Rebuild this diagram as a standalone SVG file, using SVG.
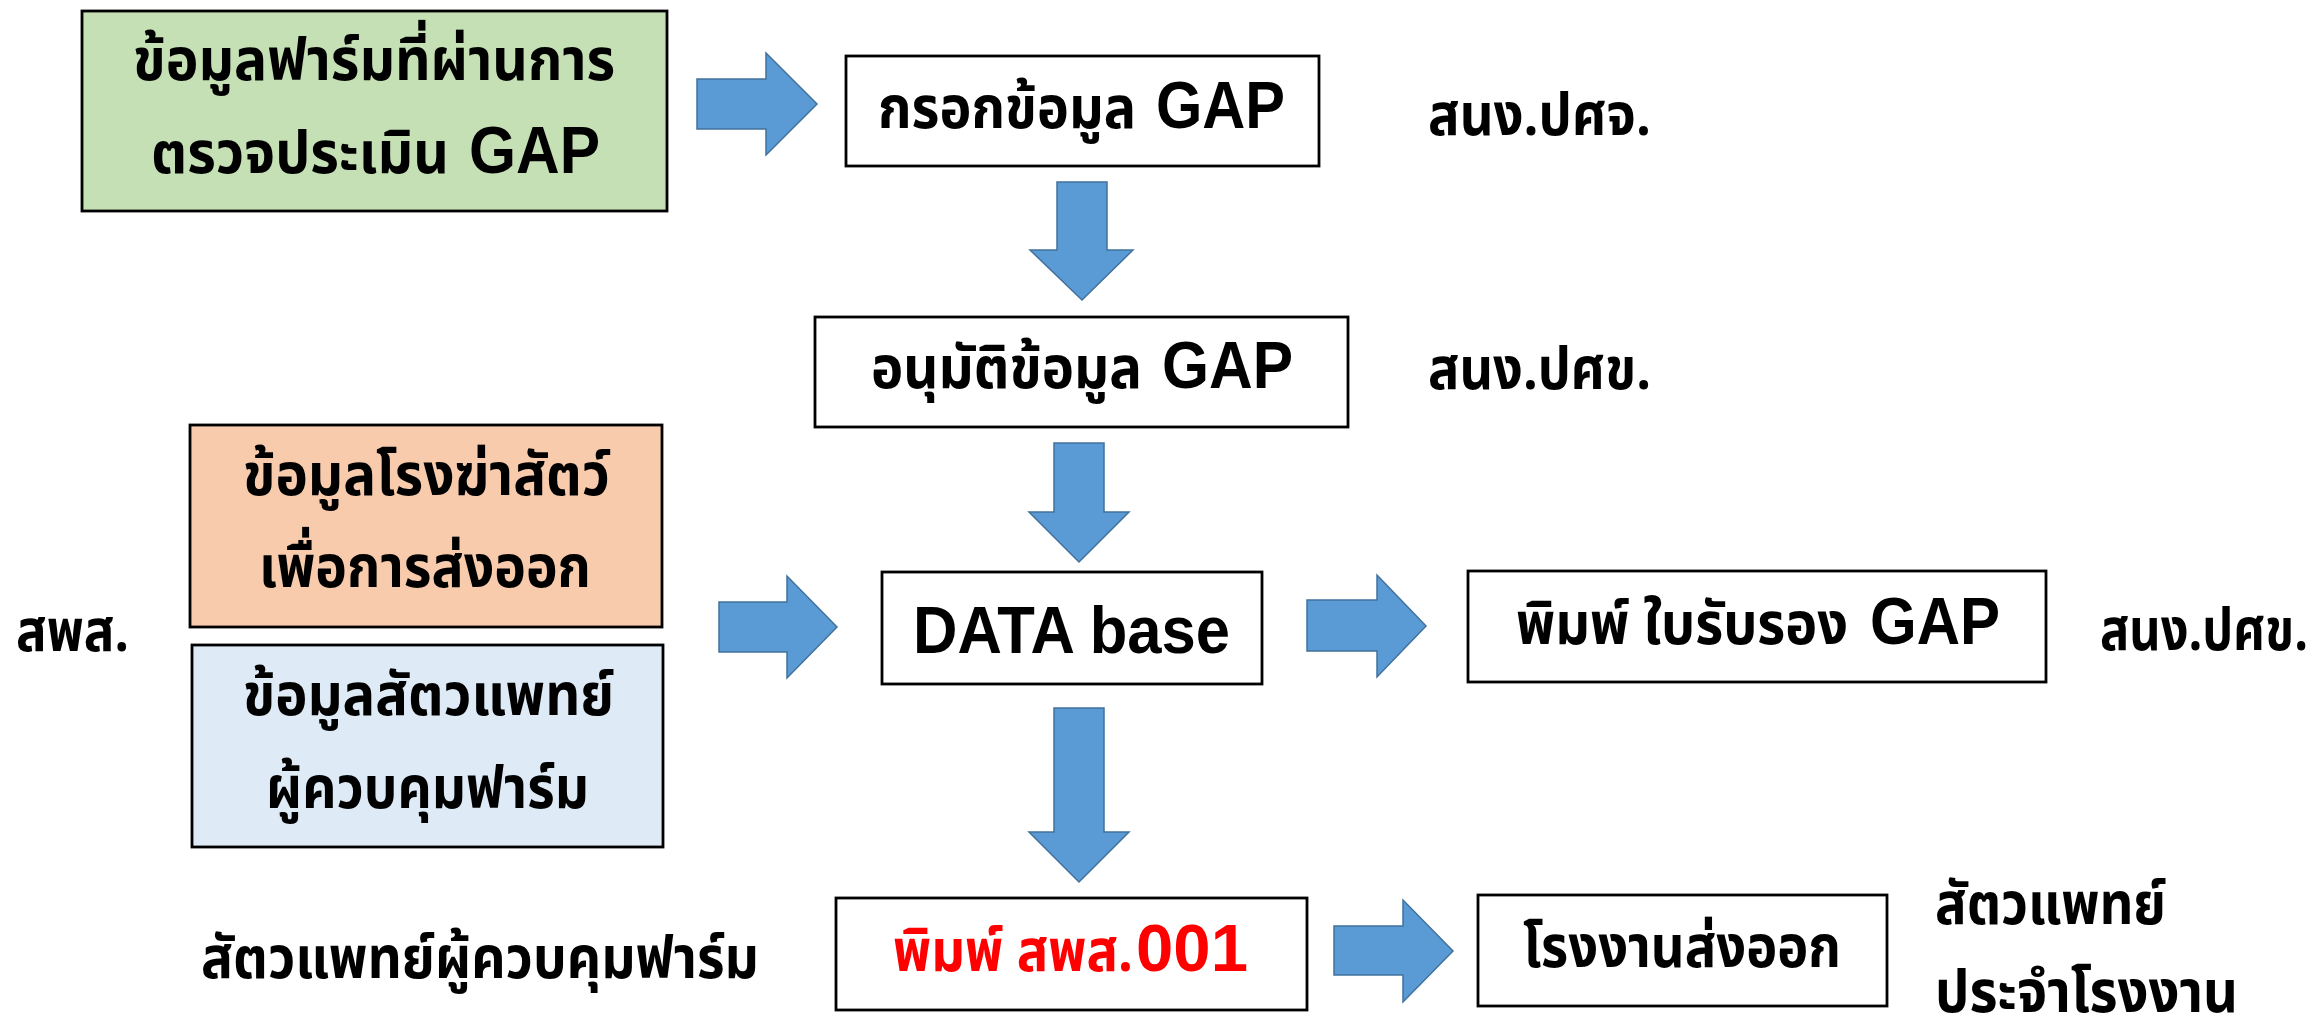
<svg xmlns="http://www.w3.org/2000/svg" width="2323" height="1024" viewBox="0 0 2323 1024">
<style>
.box{stroke:#000;stroke-width:2.8}
.arr{fill:#5B9BD5;stroke:#41719C;stroke-width:1.5}
text{font-family:"Noto Sans Thai","Noto Sans","DejaVu Sans",sans-serif;font-weight:bold;font-size:58px;fill:#000}
.lat{font-family:"Liberation Sans",Arial,sans-serif;font-size:66px}
.red{fill:#FF0000}
</style>
<rect width="2323" height="1024" fill="#fff"/>
<g id="connectors">
<path class="arr" d="M697,79 H766 V53 L817,104 L766,155 V129 H697 Z"/>
<path class="arr" d="M719,602 H787 V576 L837,627 L787,678 V652 H719 Z"/>
<path class="arr" d="M1307,600 H1377 V575 L1426,626 L1377,677 V651 H1307 Z"/>
<path class="arr" d="M1334,926 H1403 V900 L1453,951 L1403,1002 V975 H1334 Z"/>
<path class="arr" d="M1057,182 V250 H1030 L1082,300 L1133,250 H1107 V182 Z"/>
<path class="arr" d="M1054,443 V512 H1029 L1079,562 L1129,512 H1104 V443 Z"/>
<path class="arr" d="M1054,708 V832 H1029 L1079,882 L1129,832 H1104 V708 Z"/>
</g>
<g id="node-farm">
<rect class="box" x="82" y="11" width="585" height="200" fill="#C5E0B4"/>
<text x="133" y="80" textLength="482" lengthAdjust="spacingAndGlyphs">ข้อมูลฟาร์มที่ผ่านการ</text>
<text x="151" y="173" textLength="298" lengthAdjust="spacingAndGlyphs">ตรวจประเมิน</text>
<text class="lat" x="469" y="173" textLength="131" lengthAdjust="spacingAndGlyphs">GAP</text>
</g>
<g id="node-fill">
<rect class="box" x="846" y="56" width="473" height="110" fill="#fff"/>
<text x="878" y="128" textLength="258" lengthAdjust="spacingAndGlyphs">กรอกข้อมูล</text>
<text class="lat" x="1156" y="128" textLength="129" lengthAdjust="spacingAndGlyphs">GAP</text>
</g>
<g id="node-approve">
<rect class="box" x="815" y="317" width="533" height="110" fill="#fff"/>
<text x="871" y="388" textLength="271" lengthAdjust="spacingAndGlyphs">อนุมัติข้อมูล</text>
<text class="lat" x="1162" y="388" textLength="131" lengthAdjust="spacingAndGlyphs">GAP</text>
</g>
<g id="node-slaughter">
<rect class="box" x="190" y="425" width="472" height="202" fill="#F8CBAD"/>
<text x="243" y="495" textLength="367" lengthAdjust="spacingAndGlyphs">ข้อมูลโรงฆ่าสัตว์</text>
<text x="259" y="587" textLength="332" lengthAdjust="spacingAndGlyphs">เพื่อการส่งออก</text>
</g>
<g id="node-vet">
<rect class="box" x="192" y="645" width="471" height="202" fill="#DEEBF7"/>
<text x="243" y="715" textLength="371" lengthAdjust="spacingAndGlyphs">ข้อมูลสัตวแพทย์</text>
<text x="266" y="808" textLength="323" lengthAdjust="spacingAndGlyphs">ผู้ควบคุมฟาร์ม</text>
</g>
<g id="node-database">
<rect class="box" x="882" y="572" width="380" height="112" fill="#fff"/>
<text class="lat" x="913" y="653" textLength="317" lengthAdjust="spacingAndGlyphs">DATA base</text>
</g>
<g id="node-cert">
<rect class="box" x="1468" y="571" width="578" height="111" fill="#fff"/>
<text x="1516" y="644" textLength="332" lengthAdjust="spacingAndGlyphs">พิมพ์ ใบรับรอง</text>
<text class="lat" x="1870" y="644" textLength="130" lengthAdjust="spacingAndGlyphs">GAP</text>
</g>
<g id="node-print001">
<rect class="box" x="836" y="898" width="471" height="112" fill="#fff"/>
<text class="red" x="893" y="971" textLength="240" lengthAdjust="spacingAndGlyphs">พิมพ์ สพส.</text>
<text class="lat red" x="1136" y="971" textLength="112" lengthAdjust="spacingAndGlyphs">001</text>
</g>
<g id="node-factory">
<rect class="box" x="1478" y="895" width="409" height="111" fill="#fff"/>
<text x="1523" y="967" textLength="318" lengthAdjust="spacingAndGlyphs">โรงงานส่งออก</text>
</g>
<g id="labels">
<text x="1428" y="135" textLength="223" lengthAdjust="spacingAndGlyphs">สนง.ปศจ.</text>
<text x="1428" y="389" textLength="223" lengthAdjust="spacingAndGlyphs">สนง.ปศข.</text>
<text x="2308" y="650" text-anchor="end" textLength="208" lengthAdjust="spacingAndGlyphs">สนง.ปศข.</text>
<text x="16" y="651" textLength="113" lengthAdjust="spacingAndGlyphs">สพส.</text>
<text x="201" y="978" textLength="558" lengthAdjust="spacingAndGlyphs">สัตวแพทย์ผู้ควบคุมฟาร์ม</text>
<text x="1935" y="924" textLength="231" lengthAdjust="spacingAndGlyphs">สัตวแพทย์</text>
<text x="1935" y="1012" textLength="303" lengthAdjust="spacingAndGlyphs">ประจำโรงงาน</text>
</g>
</svg>
